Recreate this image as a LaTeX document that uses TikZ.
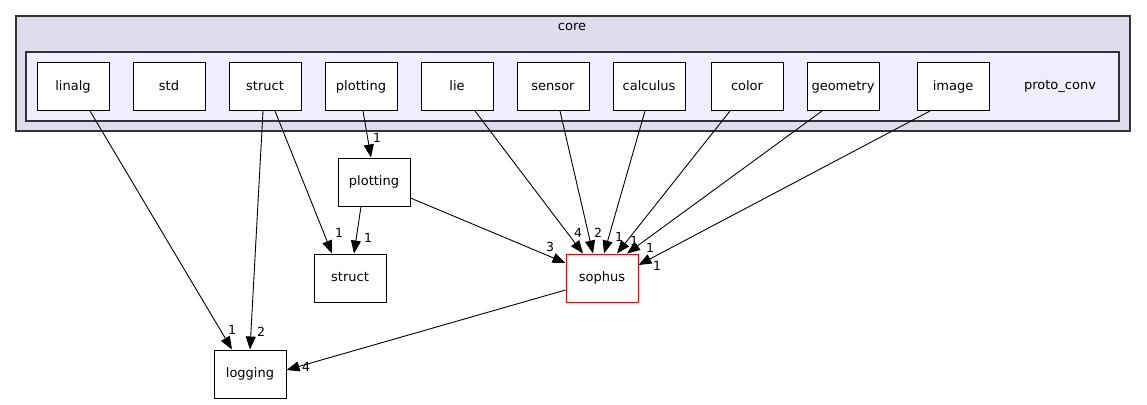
\documentclass[tikz,border=0pt]{standalone}
\usepackage{fontspec}
\setmainfont{DejaVu Sans}
\usetikzlibrary{arrows.meta}
\definecolor{corefill}{HTML}{DDDDEE}
\definecolor{protofill}{HTML}{EEEEFF}
\definecolor{frame}{HTML}{333333}
\begin{document}
\begin{tikzpicture}[x=1pt,y=-1pt,
  dirbox/.style={draw=black,fill=white,line width=1pt,minimum width=72pt,minimum height=48pt,inner sep=0pt,text height=9.5pt,text depth=2.5pt,font=\fontsize{13}{15}\selectfont},
  dep/.style={draw=black,line width=0.9pt,-{Triangle[length=13pt,width=10pt]}},
  elab/.style={font=\fontsize{12.5}{14}\selectfont,inner sep=0pt},
  ttl/.style={font=\fontsize{13}{15}\selectfont,inner sep=0pt,text height=9.5pt,text depth=2.5pt}]
\useasboundingbox (0,0) rectangle (1147,404);
% clusters
\draw[frame,fill=corefill,line width=1.2pt] (16,16) rectangle (1130,131);
\node[ttl] (coretitle) at (572,27) {core};
\draw[frame,fill=protofill,line width=1.2pt] (26,52) rectangle (1119,121);
\node[ttl] (prototitle) at (1060,86) {proto\_conv};
% inner nodes
\node[dirbox] (linalg) at (73,86.5) {linalg};
\node[dirbox] (std) at (169,86.5) {std};
\node[dirbox] (structA) at (265,86.5) {struct};
\node[dirbox] (plottingA) at (361,86.5) {plotting};
\node[dirbox] (lie) at (457,86.5) {lie};
\node[dirbox] (sensor) at (553,86.5) {sensor};
\node[dirbox] (calculus) at (649,86.5) {calculus};
\node[dirbox] (color) at (747,86.5) {color};
\node[dirbox] (geometry) at (843,86.5) {geometry};
\node[dirbox] (image) at (953,86.5) {image};
% outer nodes
\node[dirbox] (plottingB) at (374,182) {plotting};
\node[dirbox] (structB) at (350,278) {struct};
\node[dirbox,draw=red] (sophus) at (602,278) {sophus};
\node[dirbox] (logging) at (250,374) {logging};
% edges
\draw[dep] ([xshift=17pt]linalg.south) -- ([xshift=-18pt]logging.north);
\node[elab] at (232,330) {1};
\draw[dep] ([xshift=-2pt]structA.south) -- ([xshift=0pt]logging.north);
\node[elab] at (261,332) {2};
\draw[dep] ([xshift=10pt]structA.south) -- ([xshift=-18pt]structB.north);
\node[elab] at (339,233) {1};
\draw[dep] ([xshift=2pt]plottingA.south) -- ([xshift=-3pt]plottingB.north);
\node[elab] at (377,138) {1};
\draw[dep] ([xshift=-13pt]plottingB.south) -- ([xshift=4pt]structB.north);
\node[elab] at (368,238) {1};
\draw[dep] ([yshift=-16pt]plottingB.east) -- ([yshift=15pt]sophus.west);
\node[elab] at (550,247) {3};
\draw[dep] ([xshift=18pt]lie.south) -- ([xshift=-19pt]sophus.north);
\node[elab] at (578,233) {4};
\draw[dep] ([xshift=7pt]sensor.south) -- ([xshift=-9pt]sophus.north);
\node[elab] at (598,233) {2};
\draw[dep] ([xshift=-4pt]calculus.south) -- ([xshift=2pt]sophus.north);
\node[elab] at (619,237) {1};
\draw[dep] ([xshift=-17pt]color.south) -- ([xshift=15pt]sophus.north);
\node[elab] at (634,241) {1};
\draw[dep] ([xshift=-21pt]geometry.south) -- ([xshift=25pt]sophus.north);
\node[elab] at (650,248) {1};
\draw[dep] ([xshift=-23pt]image.south) -- ([yshift=13pt]sophus.east);
\node[elab] at (657,266) {1};
\draw[dep] ([yshift=-12pt]sophus.west) -- ([yshift=4pt]logging.east);
\node[elab] at (306,367) {4};
\end{tikzpicture}
\end{document}
